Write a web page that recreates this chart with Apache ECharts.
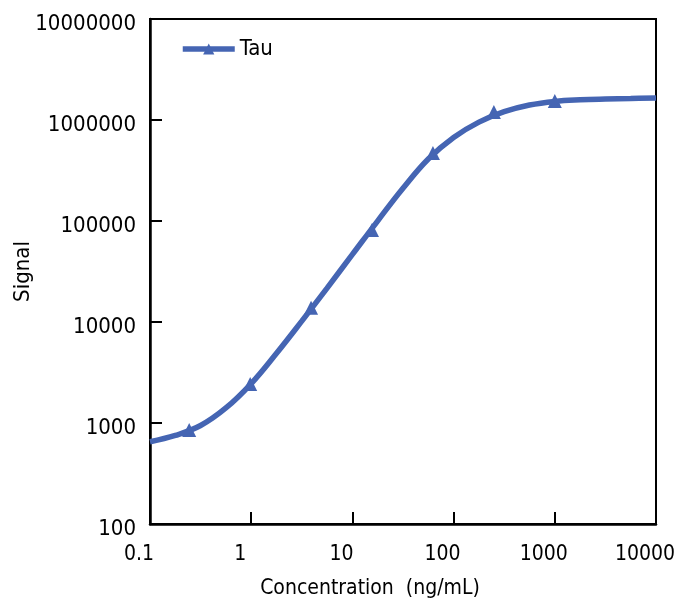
<!DOCTYPE html>
<html>
<head>
<meta charset="utf-8">
<script src="https://cdn.jsdelivr.net/npm/echarts@6/dist/echarts.min.js"></script>
<style>
html,body{margin:0;padding:0;background:#fff;}
#chart{width:676px;height:601px;}
</style>
</head>
<body>
<div id="chart"></div>
<script>
// Measured points (ng/mL, signal)
const pointX = [0.244, 0.977, 3.906, 15.625, 62.5, 250, 1000];
const pointY = [853, 2430, 13800, 81500, 471000, 1200000, 1540000];
// Fitted curve (quarter-decade steps)
const curveX = [0.1, 0.178, 0.316, 0.562, 1, 1.78, 3.16, 5.62, 10, 17.8, 31.6, 56.2, 100, 178, 316, 562, 1000, 1780, 3160, 5620, 10000];
const curveY = [653, 754, 944, 1409, 2460, 4909, 10210, 21680, 46670, 100460, 210900, 411000, 671400, 952800, 1208000, 1406000, 1528000, 1585000, 1614000, 1633000, 1652000];
const xTicks = [0.1, 1, 10, 100, 1000, 10000];
const yTicks = [100, 1000, 10000, 100000, 1000000, 10000000];
const seriesName = 'Tau';
const xTitle = 'Concentration  (ng/mL)';
const yTitle = 'Signal';

const FONT = "'Liberation Sans Narrow', 'DejaVu Sans Condensed', sans-serif";
const BLUE = '#4565b3';

const fmt = v => v < 1 ? String(Number(v.toFixed(1))) : String(Math.round(v));

const chart = echarts.init(document.getElementById('chart'), null, {renderer: 'canvas'});
chart.setOption({
  animation: false,
  backgroundColor: '#fff',
  textStyle: {fontFamily: FONT},
  grid: {left: 150, right: 20, top: 19, bottom: 77, show: true, borderColor: '#000', borderWidth: 2,
         containLabel: false, outerBoundsMode: 'none'},
  legend: {
    data: [seriesName],
    left: 180, top: 38, padding: 0,
    itemWidth: 52, itemHeight: 14,
    itemGap: 6,
    lineStyle: {width: 5.5, color: BLUE},
    itemStyle: {color: BLUE},
    textStyle: {fontFamily: FONT, fontSize: 22, color: '#000'}
  },
  xAxis: {
    type: 'log', logBase: 10, min: xTicks[0], max: xTicks[xTicks.length - 1],
    name: xTitle, nameLocation: 'middle', nameGap: 54, nameMoveOverlap: false,
    nameTextStyle: {fontFamily: FONT, fontSize: 21, color: '#000', padding: [0, 66, 0, 0]},
    axisLine: {show: true, lineStyle: {color: '#000', width: 2.5}},
    axisTick: {show: true, inside: true, length: 12, lineStyle: {color: '#000', width: 2}},
    minorTick: {show: false},
    splitLine: {show: false},
    axisLabel: {fontFamily: FONT, fontSize: 21, color: '#000', margin: 20, padding: [0, 22, 0, 0], formatter: fmt, showMinLabel: true, showMaxLabel: true}
  },
  yAxis: {
    type: 'log', logBase: 10, min: yTicks[0], max: yTicks[yTicks.length - 1],
    name: yTitle, nameLocation: 'middle', nameGap: 116, nameRotate: 90, nameMoveOverlap: false,
    nameTextStyle: {fontFamily: FONT, fontSize: 22, color: '#000'},
    axisLine: {show: true, lineStyle: {color: '#000', width: 2.5}},
    axisTick: {show: true, inside: true, length: 12, lineStyle: {color: '#000', width: 2}},
    minorTick: {show: false},
    splitLine: {show: false},
    axisLabel: {fontFamily: FONT, fontSize: 22, color: '#000', margin: 14, verticalAlign: 'top', lineHeight: 10, formatter: fmt, showMinLabel: true, showMaxLabel: true}
  },
  series: [
    {
      name: seriesName,
      type: 'line',
      smooth: 0.4,
      data: curveX.map((x, i) => [x, curveY[i]]),
      symbol: 'triangle', symbolSize: 13, showSymbol: false,
      lineStyle: {color: BLUE, width: 5.5},
      itemStyle: {color: BLUE},
      z: 3
    },
    {
      name: seriesName,
      type: 'scatter',
      data: pointX.map((x, i) => [x, pointY[i]]),
      symbol: 'triangle', symbolSize: 14,
      itemStyle: {color: BLUE, opacity: 1},
      z: 2
    }
  ]
});
</script>
</body>
</html>
